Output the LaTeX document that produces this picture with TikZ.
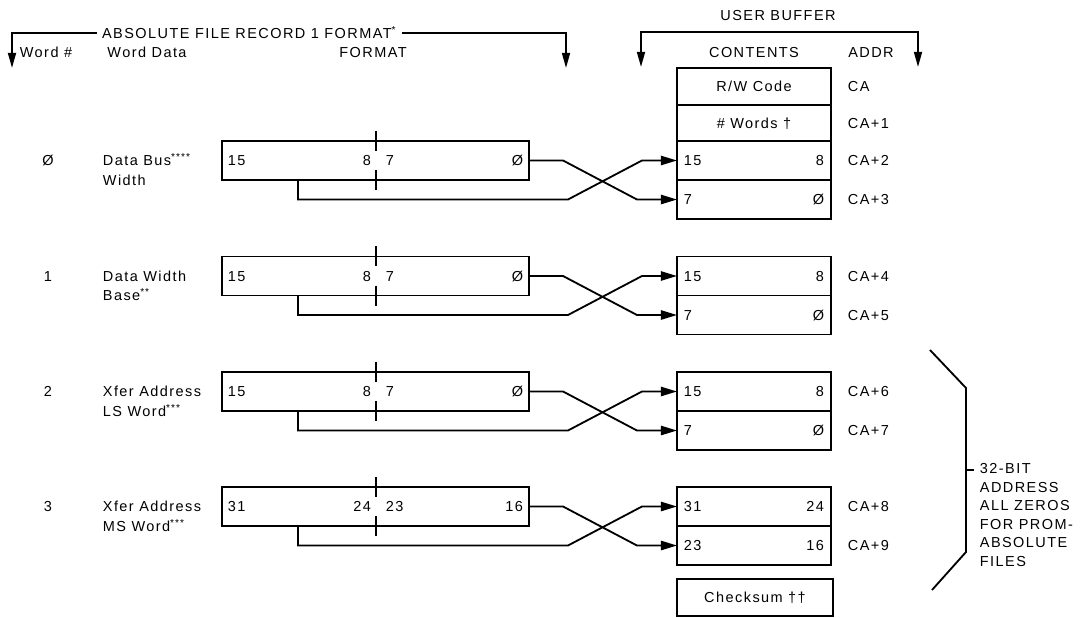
\documentclass[tikz,border=0pt]{standalone}
\usepackage{fontspec}
\setmainfont{Liberation Sans}[LetterSpace=10]
\usepackage{tikz}
\usetikzlibrary{arrows.meta,positioning,calc}

\newcommand\fnmark[1]{\smash{\textsuperscript{#1}}}
\newcommand\bitspan[4]{\makebox[3.575cm][s]{#1\hfill #2}\hspace{0.375cm}\makebox[3.425cm][s]{#3\hfill #4}}
\newcommand\halfword[2]{\makebox[3.5cm][s]{#1\hfill #2}}

\begin{document}
\begin{tikzpicture}[
  x=0.025cm, y=-0.025cm,
  font=\fontsize{10.3}{14}\selectfont,
  line width=1.3pt,
  txt/.style={inner sep=0pt, text height=7.4pt, text depth=0pt},
  wdata/.style={inner sep=0pt, align=left, anchor=west},
  field/.style={draw, minimum width=7.675cm, minimum height=0.975cm, inner xsep=0.15cm, inner ysep=0pt, outer sep=0pt, text height=7.4pt, text depth=0pt},
  cell/.style={draw, minimum width=3.85cm, minimum height=0.975cm, inner xsep=0.175cm, inner ysep=0pt, outer sep=0pt, text height=7.4pt, text depth=0pt},
  topcell/.style={cell, minimum height=0.92cm},
  feed/.style={-{Triangle[length=4mm, width=2.3mm]}},
  drop/.style={-{Triangle[length=3.8mm, width=2mm]}},
  drops/.style={{Triangle[length=3.8mm, width=2mm]}-{Triangle[length=3.8mm, width=2mm]}},
]
  \useasboundingbox (0,0) rectangle (1081,618);

  % record format bracket
  \node[fill=white, inner xsep=3pt, inner ysep=0pt, text height=7.4pt, text depth=0pt, anchor=west] (title) at (97,33) {ABSOLUTE FILE RECORD 1 FORMAT\fnmark{*}};
  \coordinate (tl) at (12,68);
  \coordinate (tr) at (566,68);
  \draw[drop] (title.west) -| (tl);
  \draw[drop] (title.east) -| (tr);

  % user buffer bracket
  \node[txt] (ubuf) at (778,15) {USER BUFFER};
  \coordinate (bl) at (641,67);
  \coordinate (br) at (918,67);
  \draw[drops] (bl) -- ++(0,-35) -| (br);

  \node[txt] (hword) at (46,52) {Word \#};
  \node[txt] (hdata) at (147,52) {Word Data};
  \node[txt] (hfmt) at (373,52) {FORMAT};
  \node[txt] (hcont) at (754,52) {CONTENTS};
  \node[txt] (haddr) at (871,52) {ADDR};

  \node[topcell] (rw) at (754,86.3) {R/W Code};
  \node[topcell, below=0pt of rw] (nwords) {\# Words †};
  \node[txt, right=0.4cm of rw] (ca0) {CA};
  \node[txt, right=0.4cm of nwords] (ca1) {CA+1};

  % word 0
  \node[txt] (n0) at (48,160.5) {Ø};
  \node[wdata] (d0) at (102,170.3) {Data Bus\fnmark{****}\\Width};
  \node[field] (fmt0) at (375.5,160.5) {\bitspan{15}{8}{7}{Ø}};
  \draw ($(fmt0.north west)+(154,-10)$) -- ++(0,20);
  \draw ($(fmt0.south west)+(154,-10)$) -- ++(0,20);
  \node[cell] (hi0) at (754,160.5) {\halfword{15}{8}};
  \node[cell, below=0pt of hi0] (lo0) {\halfword{7}{Ø}};
  \node[txt, right=0.4cm of hi0] (ca2) {CA+2};
  \node[txt, right=0.4cm of lo0] (ca3) {CA+3};
  \draw[feed] (fmt0.east) -- ++(34,0) -- ($(lo0.west)+(-40,0)$) -- (lo0.west);
  \draw[feed] ($(fmt0.south west)+(76,0)$) |- ($(lo0.west)+(-109,0)$) -- ($(hi0.west)+(-35,0)$) -- (hi0.west);

  % word 1
  \node[txt] (n1) at (48,276) {1};
  \node[wdata] (d1) at (102,285.8) {Data Width\\Base\fnmark{**}};
  \node[field] (fmt1) at (375.5,276) {\bitspan{15}{8}{7}{Ø}};
  \draw ($(fmt1.north west)+(154,-10)$) -- ++(0,20);
  \draw ($(fmt1.south west)+(154,-10)$) -- ++(0,20);
  \node[cell] (hi1) at (754,276) {\halfword{15}{8}};
  \node[cell, below=0pt of hi1] (lo1) {\halfword{7}{Ø}};
  \node[txt, right=0.4cm of hi1] (ca4) {CA+4};
  \node[txt, right=0.4cm of lo1] (ca5) {CA+5};
  \draw[feed] (fmt1.east) -- ++(34,0) -- ($(lo1.west)+(-40,0)$) -- (lo1.west);
  \draw[feed] ($(fmt1.south west)+(76,0)$) |- ($(lo1.west)+(-109,0)$) -- ($(hi1.west)+(-35,0)$) -- (hi1.west);

  % word 2
  \node[txt] (n2) at (48,391.5) {2};
  \node[wdata] (d2) at (102,401.3) {Xfer Address\\LS Word\fnmark{***}};
  \node[field] (fmt2) at (375.5,391.5) {\bitspan{15}{8}{7}{Ø}};
  \draw ($(fmt2.north west)+(154,-10)$) -- ++(0,20);
  \draw ($(fmt2.south west)+(154,-10)$) -- ++(0,20);
  \node[cell] (hi2) at (754,391.5) {\halfword{15}{8}};
  \node[cell, below=0pt of hi2] (lo2) {\halfword{7}{Ø}};
  \node[txt, right=0.4cm of hi2] (ca6) {CA+6};
  \node[txt, right=0.4cm of lo2] (ca7) {CA+7};
  \draw[feed] (fmt2.east) -- ++(34,0) -- ($(lo2.west)+(-40,0)$) -- (lo2.west);
  \draw[feed] ($(fmt2.south west)+(76,0)$) |- ($(lo2.west)+(-109,0)$) -- ($(hi2.west)+(-35,0)$) -- (hi2.west);

  % word 3
  \node[txt] (n3) at (48,506.5) {3};
  \node[wdata] (d3) at (102,516.3) {Xfer Address\\MS Word\fnmark{***}};
  \node[field] (fmt3) at (375.5,506.5) {\bitspan{31}{24}{23}{16}};
  \draw ($(fmt3.north west)+(154,-10)$) -- ++(0,20);
  \draw ($(fmt3.south west)+(154,-10)$) -- ++(0,20);
  \node[cell] (hi3) at (754,506.5) {\halfword{31}{24}};
  \node[cell, below=0pt of hi3] (lo3) {\halfword{23}{16}};
  \node[txt, right=0.4cm of hi3] (ca8) {CA+8};
  \node[txt, right=0.4cm of lo3] (ca9) {CA+9};
  \draw[feed] (fmt3.east) -- ++(34,0) -- ($(lo3.west)+(-40,0)$) -- (lo3.west);
  \draw[feed] ($(fmt3.south west)+(76,0)$) |- ($(lo3.west)+(-109,0)$) -- ($(hi3.west)+(-35,0)$) -- (hi3.west);

  \node[topcell, minimum width=3.9cm] (chk) at (755,597.5) {Checksum ††};

  % 32-bit note
  \node[wdata, font=\fontsize{10.3}{13.2}\selectfont] (zeros) at (979,515) {32-BIT\\ADDRESS\\ALL ZEROS\\FOR PROM-\\ABSOLUTE\\FILES};
  \draw (930,350) -- (966,388) -- (966,552) -- (932,590);
  \coordinate (notch) at (966,470);
  \draw (notch) -- ++(8,0);
\end{tikzpicture}
\end{document}
